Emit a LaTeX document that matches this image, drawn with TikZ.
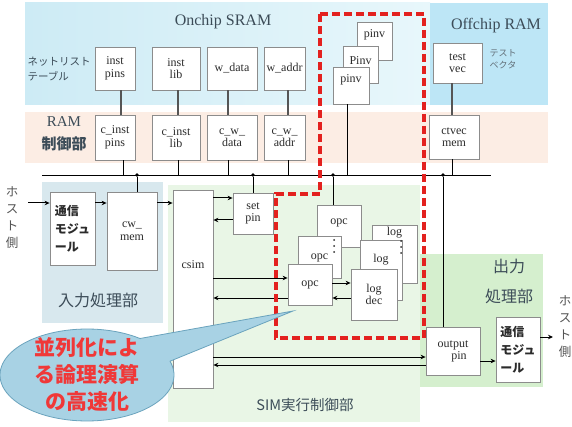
\documentclass[tikz,border=0pt]{standalone}
\usepackage{fontspec}
\setmainfont{Liberation Serif}
\newfontfamily\cjk{Noto Sans CJK JP}
\usetikzlibrary{arrows.meta}
\definecolor{onchipL}{HTML}{CDEBF5}
\definecolor{onchipR}{HTML}{E8F7FB}
\definecolor{offchip}{HTML}{BDE6F6}
\definecolor{ramband}{HTML}{FCEDE4}
\definecolor{inreg}{HTML}{D8E8EE}
\definecolor{simreg}{HTML}{E9F6E6}
\definecolor{outreg}{HTML}{D5EFCE}
\definecolor{bordr}{HTML}{8C8C8C}
\definecolor{txt}{HTML}{2B2B2B}
\definecolor{ttl}{HTML}{3C4C58}
\definecolor{dred}{HTML}{E3211F}
\definecolor{calfill}{HTML}{A8D2E4}
\definecolor{calline}{HTML}{6AA3BD}
\definecolor{caltxt}{HTML}{F03838}
\definecolor{conn}{HTML}{555555}
\begin{document}
\begin{tikzpicture}[x=1pt,y=-1pt,
  box/.style={draw=bordr, fill=white, line width=0.8pt, inner sep=1pt, align=center, text=txt, font=\fontsize{12}{12.5}\selectfont},
  lbl/.style={text=txt, font=\fontsize{12}{12.5}\selectfont, inner sep=0pt},
  jbox/.style={box, font=\cjk\bfseries\fontsize{12}{18}\selectfont},
  arr/.style={-{Stealth[length=5pt,width=4.5pt]}, line width=1pt, draw=black},
  busline/.style={line width=0.9pt, draw=black},
  tconn/.style={line width=2pt, draw=conn},
  jdot/.style={circle, fill=black, inner sep=0pt, minimum size=3.6pt},
  sdot/.style={circle, fill=txt, inner sep=0pt, minimum size=2pt},
  rtitle/.style={text=ttl, font=\fontsize{16}{17}\selectfont},
  jtitle/.style={text=ttl, font=\cjk\fontsize{16}{30}\selectfont, align=center},
  hosttxt/.style={text=txt!80, font=\cjk\fontsize{12.5}{17}\selectfont, align=center},
]
\useasboundingbox (0,0) rectangle (572,427);
\fill[white] (0,0) rectangle (572,427);
% backgrounds
\shade[left color=onchipL, right color=onchipR] (25,3) rectangle (430,105);
\fill[offchip] (430,3) rectangle (548,105);
\fill[ramband] (25,112) rectangle (548,163);
\fill[inreg] (42,182) rectangle (163,323);
\fill[simreg] (168,185) rectangle (420,422);
\fill[outreg] (420,254) rectangle (543,387);

% titles
\node[rtitle] (onchipT) at (223,22) {Onchip SRAM};
\node[rtitle] (offchipT) at (496,26) {Offchip RAM};
\node[text=ttl, font=\cjk\fontsize{10.5}{15}\selectfont, align=left, anchor=west] (nettab) at (24,69.5) {ネットリスト\\テーブル};
\node[text=ttl, font=\fontsize{15}{23}\selectfont, align=center] (ramctl) at (64,133.5) {RAM\\{\cjk\bfseries 制御部}};
\node[text=ttl!80, font=\cjk\fontsize{9}{12}\selectfont, align=center] (testvT) at (503,59) {テスト\\ベクタ};
\node[jtitle] (inT) at (98,300) {入力処理部};
\node[jtitle, font=\cjk\fontsize{14.5}{16}\selectfont] (simT) at (305,405) {SIM実行制御部};
\node[jtitle] (outT) at (509,281) {出力\\処理部};
\node[hosttxt] (hostLT) at (12,218) {ホ\\ス\\ト\\側};
\node[hosttxt] (hostRT) at (565,327) {ホ\\ス\\ト\\側};

% top boxes
\node[box, minimum width=40, minimum height=43] (instpins) at (115,68.5) {inst\\pins};
\node[box, minimum width=48, minimum height=43] (instlib) at (176,68.5) {inst\\lib};
\node[box, minimum width=50, minimum height=43] (wdata) at (232,68.5) {w\_data};
\node[box, minimum width=41, minimum height=43] (waddr) at (284.5,68.5) {w\_addr};
\node[box, minimum width=40, minimum height=45] (cinstpins) at (115,137.5) {c\_inst\\pins};
\node[box, minimum width=48, minimum height=45] (cinstlib) at (176,137.5) {c\_inst\\lib};
\node[box, minimum width=50, minimum height=45] (cwdata) at (232,137.5) {c\_w\_\\data};
\node[box, minimum width=41, minimum height=45] (cwaddr) at (284.5,137.5) {c\_w\_\\addr};
\node[box, minimum width=35, minimum height=38] (pinvC) at (374.5,41) {};
\node[lbl] (pinvCt) at (374.5,35) {pinv};
\node[box, minimum width=35, minimum height=37] (pinvB) at (360.5,64.5) {};
\node[lbl] (pinvBt) at (360.5,61) {Pinv};
\node[box, minimum width=36, minimum height=37] (pinvA) at (351,85.5) {};
\node[lbl] (pinvAt) at (351,80) {pinv};
\node[box, minimum width=49, minimum height=40] (testvec) at (457.5,63) {test\\vec};
\node[box, minimum width=50, minimum height=44] (ctvec) at (454,137) {ctvec\\mem};

% connectors top -> RAM control
\draw[tconn] ([xshift=5.5pt]instpins.south) -- ([xshift=5.5pt]cinstpins.north);
\draw[tconn] ([xshift=2pt]instlib.south) -- ([xshift=2pt]cinstlib.north);
\draw[tconn] ([xshift=-4pt]wdata.south) -- ([xshift=-4pt]cwdata.north);
\draw[tconn] ([xshift=3pt]waddr.south) -- ([xshift=3pt]cwaddr.north);
\draw[tconn] ([xshift=-5.5pt]testvec.south) -- ([xshift=-5.5pt]testvec.south |- ctvec.north);

% bus
\coordinate (busL) at (42,175);
\coordinate (busR) at (491,175);
\draw[busline] (busL) -- (busR);
\draw[busline] ([xshift=8pt]cinstpins.south) -- ([xshift=8pt]cinstpins.south |- busL);
\draw[busline] ([xshift=2pt]cinstlib.south) -- ([xshift=2pt]cinstlib.south |- busL);
\draw[busline] ([xshift=-4pt]cwdata.south) -- ([xshift=-4pt]cwdata.south |- busL);
\draw[busline] ([xshift=3.5pt]cwaddr.south) -- ([xshift=3.5pt]cwaddr.south |- busL);
\draw[busline] ([xshift=-4pt]pinvA.south) -- ([xshift=-4pt]pinvA.south |- busL);
\draw[busline] ([xshift=-2pt]ctvec.south) -- ([xshift=-2pt]ctvec.south |- busL);

% lower boxes
\node[jbox, minimum width=45, minimum height=73, align=left] (comm1) at (72.5,228.5) {通信\\モジュ\\ール};
\node[box, minimum width=50, minimum height=78] (cwmem) at (132,231) {cw\_\\mem};
\node[box, minimum width=40, minimum height=198] (csim) at (193,289) {};
\node[lbl] (csimt) at (193,265) {csim};
\node[box, minimum width=40, minimum height=41] (setpin) at (253,213.5) {set\\pin};
\node[box, minimum width=44, minimum height=42] (opcC) at (339,226) {};
\node[lbl] (opcCt) at (339,223) {opc};
\node[box, minimum width=43, minimum height=42] (opcB) at (319.5,257) {};
\node[lbl] (opcBt) at (319.5,258) {opc};
\node[box, minimum width=44, minimum height=41] (opcA) at (310,284.5) {opc};
\node[box, minimum width=45, minimum height=58] (logC) at (394.5,254) {};
\node[lbl] (logCt) at (394.5,233) {log};
\node[box, minimum width=42, minimum height=60] (logB) at (381,270) {};
\node[lbl] (logBt) at (381,260) {log};
\node[box, minimum width=46, minimum height=51] (logdec) at (374,294.5) {log\\dec};
\node[box, minimum width=54, minimum height=48] (outpin) at (453,351.5) {output\\\quad pin};
\node[jbox, minimum width=44, minimum height=65, align=left] (comm2) at (518,349.5) {通信\\モジュ\\ール};

% ellipsis dots
\node[sdot] (od1) at (334,240) {};
\node[sdot] (od2) at (334,246) {};
\node[sdot] (od3) at (334,252) {};
\node[sdot] (ld1) at (401,241) {};
\node[sdot] (ld2) at (401,247) {};
\node[sdot] (ld3) at (401,253) {};

% bus taps
\node[jdot] (t1) at (137,175) {};
\node[jdot] (t2) at (253,175) {};
\node[jdot] (t3) at (333,175) {};
\node[jdot] (t4) at (443,175) {};
\draw[busline] (t1) -- (t1 |- cwmem.north);
\draw[busline] (t2) -- (t2 |- setpin.north);
\draw[busline] (t3) -- (t3 |- opcC.north);
\draw[busline] (t4) -- (t4 |- outpin.north);

% arrows
\coordinate (hostL) at (28,203);
\coordinate (hostR) at (553,337);
\draw[arr] (hostL) -- (comm1.west |- hostL);
\draw[arr] (comm1.east |- hostL) -- (cwmem.west |- hostL);
\draw[arr] (cwmem.east |- hostL) -- (csim.west |- hostL);
\draw[arr] (csim.east |- 0,198) -- (setpin.west |- 0,198);
\draw[arr] (setpin.west |- 0,220) -- (csim.east |- 0,220);
\draw[arr] (csim.east |- 0,278) -- (opcA.west |- 0,278);
\draw[arr] (opcA.west |- 0,298) -- (csim.east |- 0,298);
\draw[arr] (opcA.east |- 0,283) -- (logdec.west |- 0,283);
\draw[arr] (logdec.west |- 0,298) -- (opcA.east |- 0,298);
\draw[arr] (csim.east |- 0,357) -- (outpin.west |- 0,357);
\draw[arr] (outpin.west |- 0,365) -- (csim.east |- 0,365);
\draw[arr] (outpin.east |- 0,361) -- (comm2.west |- 0,361);
\draw[arr] (comm2.east |- hostR) -- (hostR);

% red dashed region
\draw[dred, line width=3.3pt, dash pattern=on 8pt off 4pt] (320,14) -- (424,14) -- (424,338) -- (276,338) -- (276,194) -- (320,194) -- cycle;

% callout
\coordinate (calloutTip) at (293,311);
\draw[calline, fill=calfill, line width=0.8pt] (170.0,361.2) -- (calloutTip) -- (139.96,338.5) -- plot[domain=-52.5:-377.4, samples=90] ({87+87*cos(\x)},{375+46*sin(\x)}) -- cycle;
\node[font=\cjk\bfseries\fontsize{21}{27}\selectfont, text=caltxt, align=center] (callouttext) at (87,375) {並列化によ\\る論理演算\\の高速化};
\end{tikzpicture}
\end{document}
